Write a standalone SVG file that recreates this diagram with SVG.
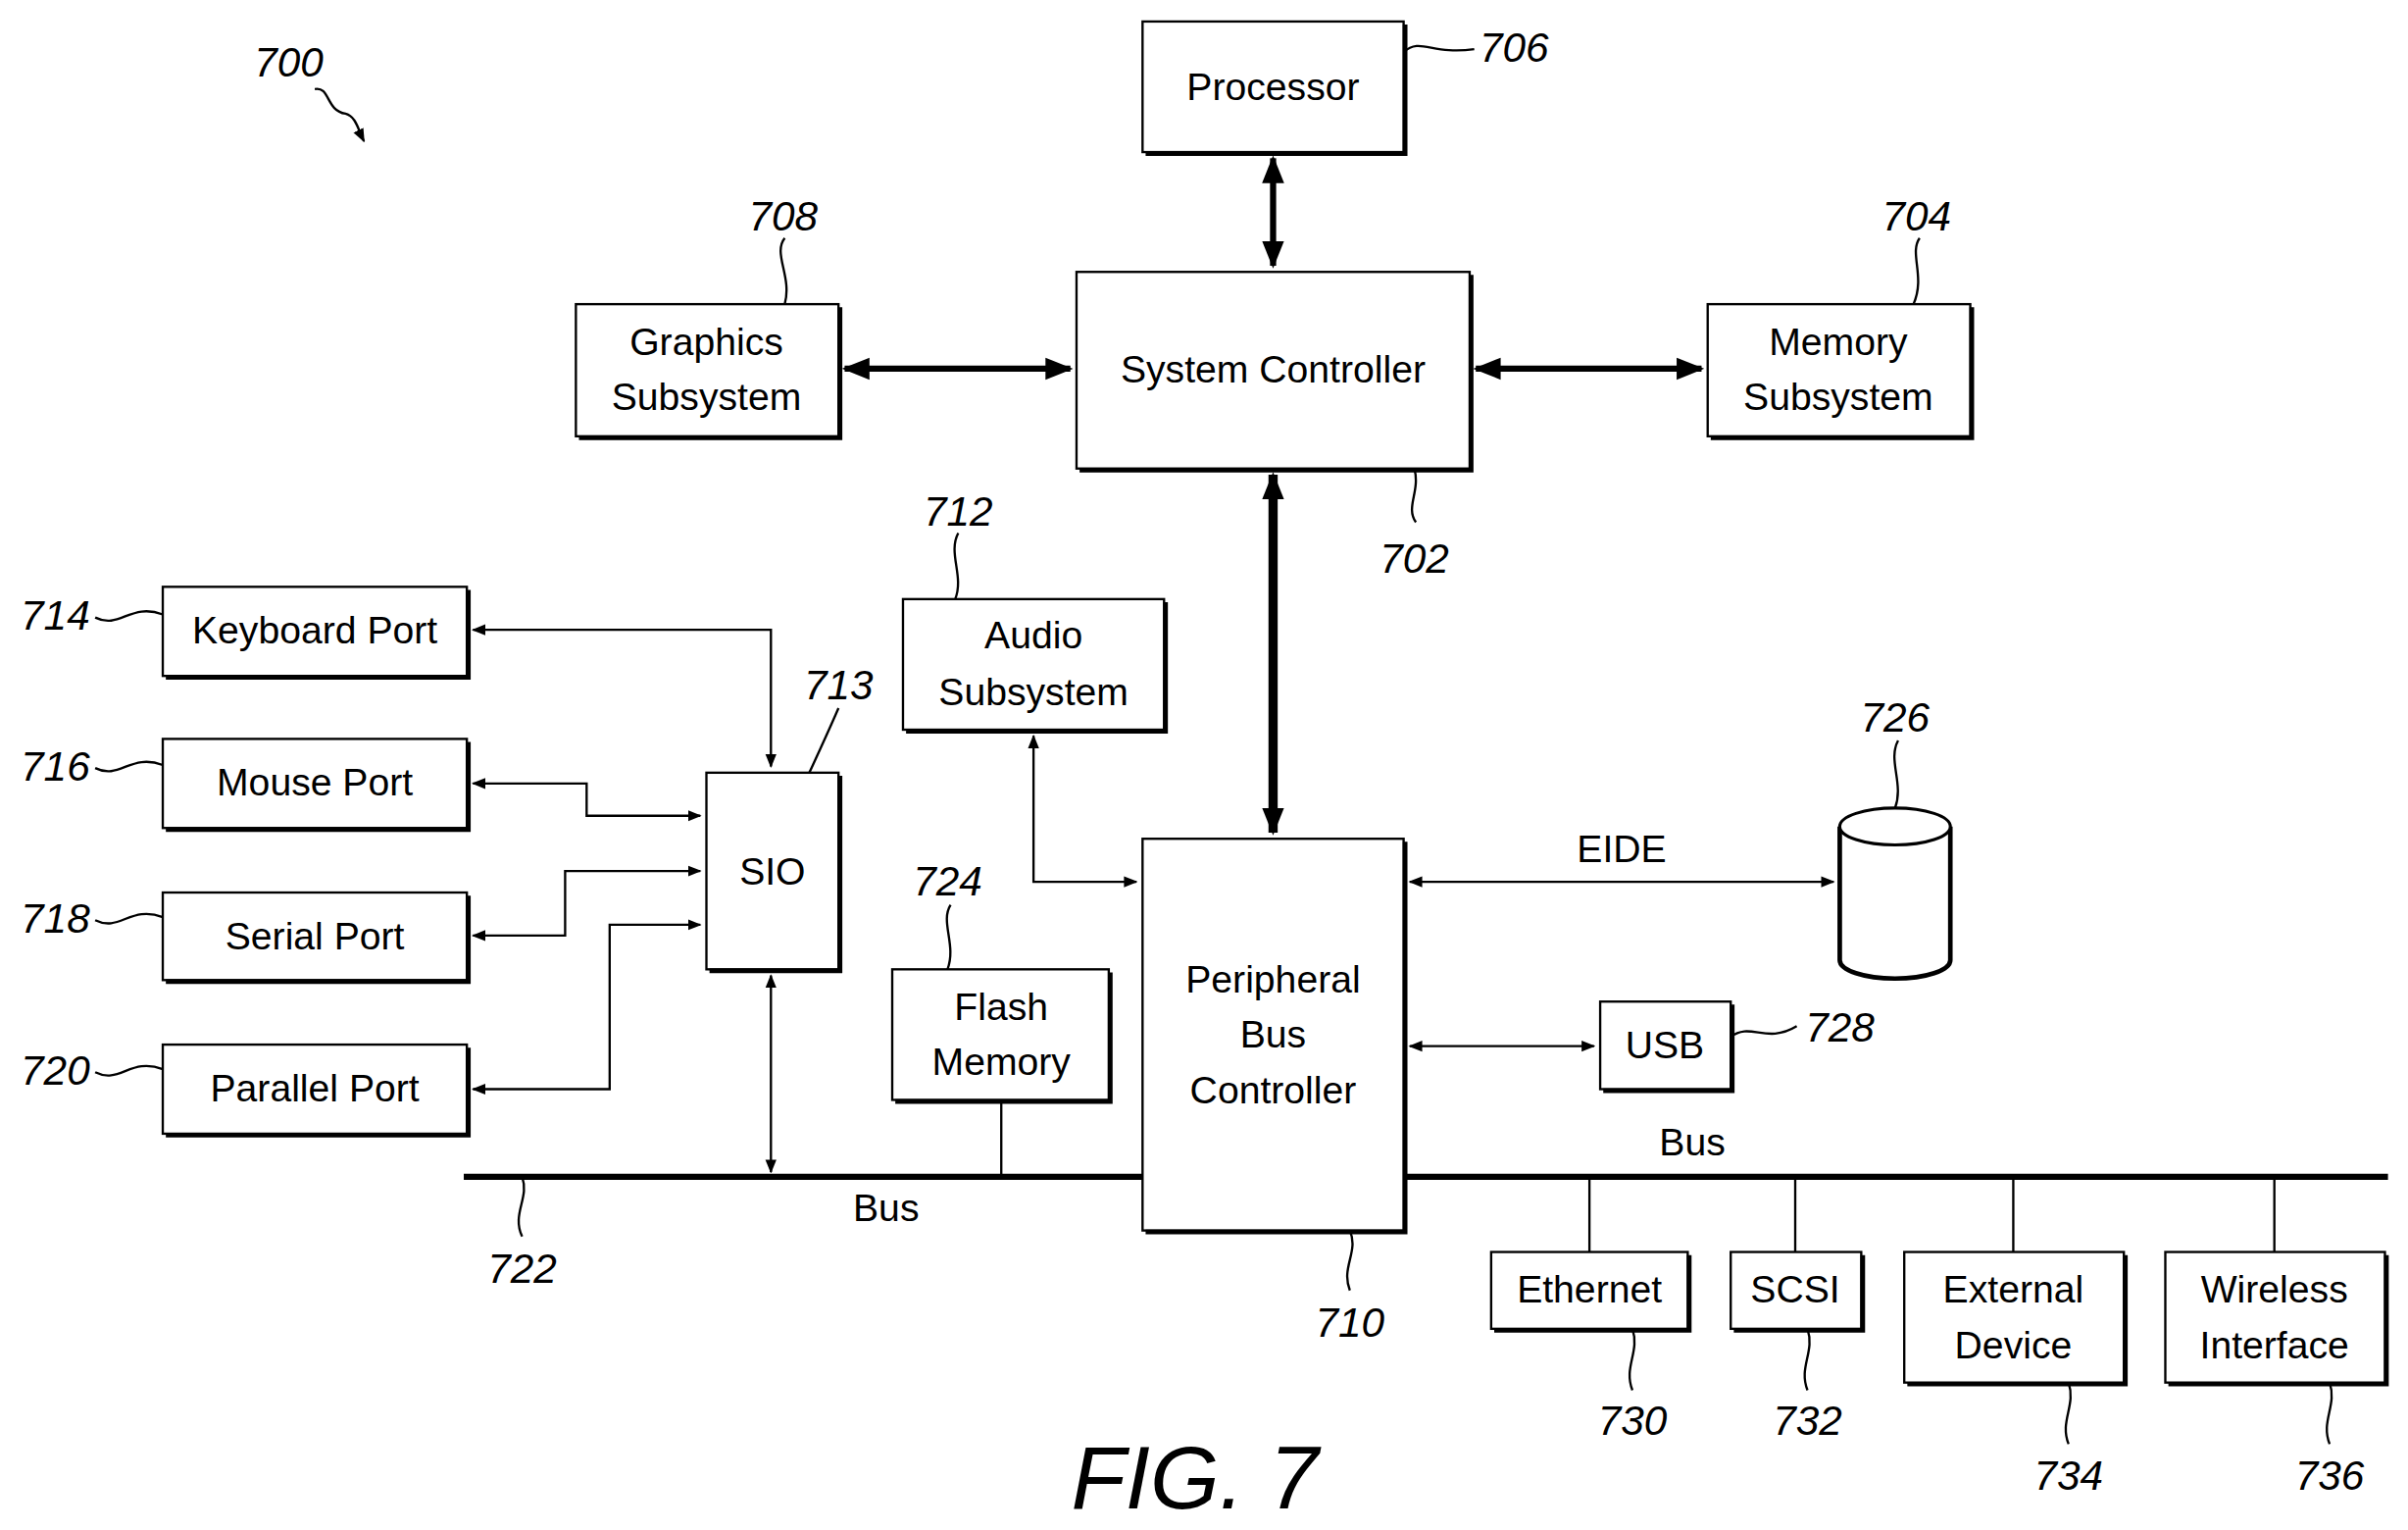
<svg xmlns="http://www.w3.org/2000/svg" width="2456" height="1560" viewBox="0 0 2456 1560">
<defs>
<marker id="a" viewBox="0 0 10 10" refX="9" refY="5" markerWidth="9" markerHeight="9" orient="auto-start-reverse" markerUnits="userSpaceOnUse"><path d="M0,1 L10,5 L0,9 z" fill="#000"/></marker>
<marker id="A" viewBox="0 0 10 10" refX="9" refY="5" markerWidth="18" markerHeight="18" orient="auto-start-reverse" markerUnits="userSpaceOnUse"><path d="M0,1 L10,5 L0,9 z" fill="#000"/></marker>
<style>
.b{fill:#fff;stroke:#000;stroke-width:1.5}
.s{fill:none;stroke:#000;stroke-width:3}
.t{font-family:"Liberation Sans",Arial,sans-serif;font-size:25px;text-anchor:middle;fill:#000}
.r{font-family:"Liberation Sans",Arial,sans-serif;font-size:27px;font-style:italic;text-anchor:middle;fill:#000}
.l{fill:none;stroke:#000;stroke-width:1.5}
.c{fill:none;stroke:#000;stroke-width:1.5}
.k{fill:none;stroke:#000;stroke-width:4}
</style>
</defs>
<rect width="2456" height="1560" fill="#fff"/>
<g transform="scale(1.5663)">
<g id="connectors">
<line class="k" x1="829" y1="103" x2="829" y2="173" marker-start="url(#A)" marker-end="url(#A)"/>
<line class="k" x1="550" y1="240" x2="697" y2="240" marker-start="url(#A)" marker-end="url(#A)"/>
<line class="k" x1="961" y1="240" x2="1108" y2="240" marker-start="url(#A)" marker-end="url(#A)"/>
<line x1="829" y1="309" x2="829" y2="542" stroke="#000" stroke-width="6" marker-start="url(#A)" marker-end="url(#A)"/>
<polyline class="c" points="308,410 502,410 502,499" marker-start="url(#a)" marker-end="url(#a)"/>
<polyline class="c" points="308,510 382,510 382,531 456,531" marker-start="url(#a)" marker-end="url(#a)"/>
<polyline class="c" points="308,609 368,609 368,567 456,567" marker-start="url(#a)" marker-end="url(#a)"/>
<polyline class="c" points="308,709 397,709 397,602 456,602" marker-start="url(#a)" marker-end="url(#a)"/>
<line class="c" x1="502" y1="635" x2="502" y2="763" marker-start="url(#a)" marker-end="url(#a)"/>
<polyline class="c" points="673,479 673,574 740,574" marker-start="url(#a)" marker-end="url(#a)"/>
<line class="c" x1="652" y1="716" x2="652" y2="766"/>
<line class="c" x1="918" y1="574" x2="1194" y2="574" marker-start="url(#a)" marker-end="url(#a)"/>
<line class="c" x1="918" y1="681" x2="1038" y2="681" marker-start="url(#a)" marker-end="url(#a)"/>
<line x1="302" y1="766" x2="1555" y2="766" stroke="#000" stroke-width="4"/>
<line class="c" x1="1035" y1="766" x2="1035" y2="815"/>
<line class="c" x1="1169" y1="766" x2="1169" y2="815"/>
<line class="c" x1="1311" y1="766" x2="1311" y2="815"/>
<line class="c" x1="1481" y1="766" x2="1481" y2="815"/>
<text class="t" x="1056" y="561">EIDE</text>
<text class="t" x="577" y="795">Bus</text>
<text class="t" x="1102" y="752">Bus</text>
</g>
<g id="processor"><rect class="b" x="744" y="14" width="170" height="85"/><polyline class="s" points="746,100 915,100 915,16"/><text class="t" x="829" y="65">Processor</text></g>
<g id="sysctrl"><rect class="b" x="701" y="177" width="256" height="128"/><polyline class="s" points="703,306 958,306 958,179"/><text class="t" x="829" y="249">System Controller</text></g>
<g id="graphics"><rect class="b" x="375" y="198" width="171" height="86"/><polyline class="s" points="377,285 547,285 547,200"/><text class="t" x="460" y="231">Graphics</text><text class="t" x="460" y="267">Subsystem</text></g>
<g id="memory"><rect class="b" x="1112" y="198" width="171" height="86"/><polyline class="s" points="1114,285 1284,285 1284,200"/><text class="t" x="1197" y="231">Memory</text><text class="t" x="1197" y="267">Subsystem</text></g>
<g id="audio"><rect class="b" x="588" y="390" width="170" height="85"/><polyline class="s" points="590,476 759,476 759,392"/><text class="t" x="673" y="422">Audio</text><text class="t" x="673" y="459">Subsystem</text></g>
<g id="keyboard"><rect class="b" x="106" y="382" width="198" height="58"/><polyline class="s" points="108,441 305,441 305,384"/><text class="t" x="205" y="419">Keyboard Port</text></g>
<g id="mouse"><rect class="b" x="106" y="481" width="198" height="58"/><polyline class="s" points="108,540 305,540 305,483"/><text class="t" x="205" y="518">Mouse Port</text></g>
<g id="serial"><rect class="b" x="106" y="581" width="198" height="57"/><polyline class="s" points="108,639 305,639 305,583"/><text class="t" x="205" y="618">Serial Port</text></g>
<g id="parallel"><rect class="b" x="106" y="680" width="198" height="58"/><polyline class="s" points="108,739 305,739 305,682"/><text class="t" x="205" y="717">Parallel Port</text></g>
<g id="sio"><rect class="b" x="460" y="503" width="86" height="128"/><polyline class="s" points="462,632 547,632 547,505"/><text class="t" x="503" y="576">SIO</text></g>
<g id="flash"><rect class="b" x="581" y="631" width="141" height="85"/><polyline class="s" points="583,717 723,717 723,633"/><text class="t" x="652" y="664">Flash</text><text class="t" x="652" y="700">Memory</text></g>
<g id="pbc"><rect class="b" x="744" y="546" width="170" height="255"/><polyline class="s" points="746,802 915,802 915,548"/><text class="t" x="829" y="646">Peripheral</text><text class="t" x="829" y="682">Bus</text><text class="t" x="829" y="718">Controller</text></g>
<g id="usb"><rect class="b" x="1042" y="652" width="85" height="57"/><polyline class="s" points="1044,710 1128,710 1128,654"/><text class="t" x="1084" y="689">USB</text></g>
<g id="disk"><path d="M1198,538 L1198,625 A36,12 0 0 0 1270,625 L1270,538" fill="#fff" stroke="#000" stroke-width="3"/><ellipse cx="1234" cy="538" rx="36" ry="12" fill="#fff" stroke="#000" stroke-width="2"/></g>
<g id="ethernet"><rect class="b" x="971" y="815" width="128" height="50"/><polyline class="s" points="973,866 1100,866 1100,817"/><text class="t" x="1035" y="848">Ethernet</text></g>
<g id="scsi"><rect class="b" x="1127" y="815" width="85" height="50"/><polyline class="s" points="1129,866 1213,866 1213,817"/><text class="t" x="1169" y="848">SCSI</text></g>
<g id="external"><rect class="b" x="1240" y="815" width="143" height="85"/><polyline class="s" points="1242,901 1384,901 1384,817"/><text class="t" x="1311" y="848">External</text><text class="t" x="1311" y="884">Device</text></g>
<g id="wireless"><rect class="b" x="1410" y="815" width="143" height="85"/><polyline class="s" points="1412,901 1554,901 1554,817"/><text class="t" x="1481" y="848">Wireless</text><text class="t" x="1481" y="884">Interface</text></g>
<g id="refs">
<text class="r" x="188" y="50">700</text><path class="l" d="M205,58 C215,56 212,72 225,74 C232,76 233,84 237,92" marker-end="url(#a)"/>
<text class="r" x="986" y="40">706</text><path class="l" d="M914,34 C925,24 932,36 960,32"/>
<text class="r" x="510" y="150">708</text><path class="l" d="M511,155 C503,165 516,180 511,198"/>
<text class="r" x="1248" y="150">704</text><path class="l" d="M1250,155 C1243,165 1254,180 1246,198"/>
<text class="r" x="921" y="373">702</text><path class="l" d="M921,305 C925,320 915,330 922,340"/>
<text class="r" x="624" y="342">712</text><path class="l" d="M624,347 C617,360 628,375 622,390"/>
<text class="r" x="546" y="455">713</text><path class="l" d="M546,461 C540,475 533,490 527,503"/>
<text class="r" x="36" y="410">714</text><path class="l" d="M62,402 C78,410 85,392 106,400"/>
<text class="r" x="36" y="508">716</text><path class="l" d="M62,500 C78,508 85,490 106,498"/>
<text class="r" x="36" y="607">718</text><path class="l" d="M62,599 C78,607 85,589 106,597"/>
<text class="r" x="36" y="706">720</text><path class="l" d="M62,698 C78,706 85,688 106,696"/>
<text class="r" x="617" y="583">724</text><path class="l" d="M619,589 C612,600 623,615 617,631"/>
<text class="r" x="1234" y="476">726</text><path class="l" d="M1236,482 C1229,495 1240,510 1234,526"/>
<text class="r" x="1198" y="678">728</text><path class="l" d="M1127,675 C1140,665 1150,680 1170,668"/>
<text class="r" x="340" y="835">722</text><path class="l" d="M340,766 C345,780 333,790 340,805"/>
<text class="r" x="879" y="870">710</text><path class="l" d="M879,801 C885,815 873,825 879,840"/>
<text class="r" x="1063" y="934">730</text><path class="l" d="M1063,865 C1068,880 1057,890 1063,905"/>
<text class="r" x="1177" y="934">732</text><path class="l" d="M1177,865 C1182,880 1171,890 1177,905"/>
<text class="r" x="1347" y="970">734</text><path class="l" d="M1347,900 C1352,915 1341,925 1347,940"/>
<text class="r" x="1517" y="970">736</text><path class="l" d="M1517,900 C1522,915 1511,925 1517,940"/>
<text class="r" x="778" y="982" style="font-size:58px">FIG. 7</text>
</g>
</g>
</svg>
